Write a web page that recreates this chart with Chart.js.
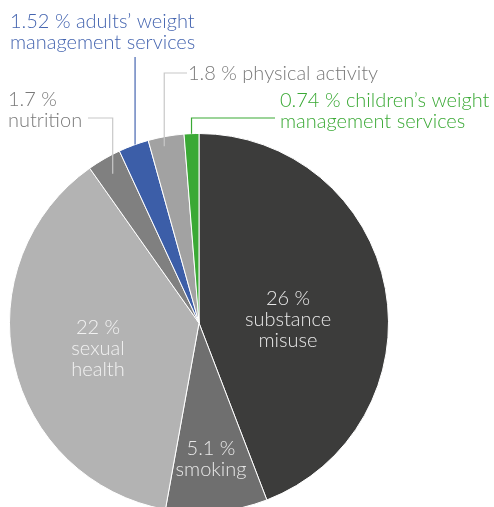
<!DOCTYPE html>
<html>
<head>
<meta charset="utf-8">
<script src="https://cdn.jsdelivr.net/npm/chart.js@4.4.1/dist/chart.umd.min.js"></script>
<style>
  html, body { margin: 0; padding: 0; background: #fff; overflow: hidden; }
  #wrap { width: 494px; height: 520px; }
</style>
</head>
<body>
<div id="wrap"><canvas id="pie" width="494" height="520"></canvas></div>
<script>
const categories = [
  "substance misuse",
  "smoking",
  "sexual health",
  "nutrition",
  "adults’ weight management services",
  "physical activity",
  "children’s weight management services",
];
const shares = [26, 5.1, 22, 1.7, 1.52, 1.8, 0.74];
const shareLabels = ["26 %", "5.1 %", "22 %", "1.7 %", "1.52 %", "1.8 %", "0.74 %"];
const sliceColours = ["#3c3c3b", "#6f6f6f", "#b3b3b3", "#808080", "#3c5ea8", "#a2a2a2", "#3aa935"];

const FONT = '300 20px Lato, "Open Sans", sans-serif';

// label text is drawn by hand; positions are baselines of the first line
const labels = [
  { i: 0, lines: [shareLabels[0], "substance", "misuse"], x: 288, y: 305, align: "center", color: "#e8e8e8" },
  { i: 1, lines: [shareLabels[1], "smoking"], x: 211, y: 455, align: "center", color: "#e8e8e8" },
  { i: 2, lines: [shareLabels[2], "sexual", "health"], x: 98, y: 334, align: "center", color: "#f2f2f2" },
  { i: 3, lines: [shareLabels[3], "nutrition"], x: 8, y: 106, align: "left", color: "#7a7a7a",
    lineColor: "#c8c8c8", r: 0.91, at: 0.5, route: [{ y: 118 }, { x: 88 }] },
  { i: 4, lines: [shareLabels[4] + " adults’ weight", "management services"], x: 10, y: 28, align: "left", color: "#4565b0",
    lineColor: "#4565b0", r: 1.0, at: 0.55, route: [{ y: 57 }] },
  { i: 5, lines: [shareLabels[5] + " physical activity"], x: 188, y: 80, align: "left", color: "#7a7a7a",
    lineColor: "#c8c8c8", r: 0.95, at: 0.4, route: [{ y: 73 }, { x: 187 }] },
  { i: 6, lines: [shareLabels[6] + " children’s weight", "management services"], x: 280, y: 107, align: "left", color: "#3aa935",
    lineColor: "#3aa935", r: 1.0, at: 0.5, route: [{ y: 118 }, { x: 275 }] },
];

const labelPlugin = {
  id: "sliceLabels",
  afterDraw(chart) {
    const ctx = chart.ctx;
    const arcs = chart.getDatasetMeta(0).data;
    ctx.save();
    ctx.font = FONT;
    ctx.textBaseline = "alphabetic";
    labels.forEach((lab) => {
      if (lab.route) {
        const arc = arcs[lab.i];
        const a = arc.startAngle + (arc.endAngle - arc.startAngle) * lab.at;
        const rr = arc.outerRadius * lab.r;
        let px = arc.x + Math.cos(a) * rr;
        let py = arc.y + Math.sin(a) * rr;
        ctx.beginPath();
        ctx.strokeStyle = lab.lineColor;
        ctx.lineWidth = 1.2;
        ctx.moveTo(px, py);
        lab.route.forEach((p) => {
          if (p.x !== undefined) px = p.x;
          if (p.y !== undefined) py = p.y;
          ctx.lineTo(px, py);
        });
        ctx.stroke();
      }
      ctx.fillStyle = lab.color;
      ctx.textAlign = lab.align;
      lab.lines.forEach((t, k) => ctx.fillText(t, lab.x, lab.y + k * 21));
    });
    ctx.restore();
  },
};

new Chart(document.getElementById("pie"), {
  type: "pie",
  data: {
    labels: categories,
    datasets: [{
      data: shares,
      backgroundColor: sliceColours,
      borderColor: "#ffffff",
      borderWidth: 1,
    }],
  },
  options: {
    responsive: false,
    animation: false,
    layout: { padding: { left: 9, right: 105, top: 133, bottom: 7 } },
    plugins: { legend: { display: false }, tooltip: { enabled: false } },
  },
  plugins: [labelPlugin],
});
</script>
</body>
</html>
